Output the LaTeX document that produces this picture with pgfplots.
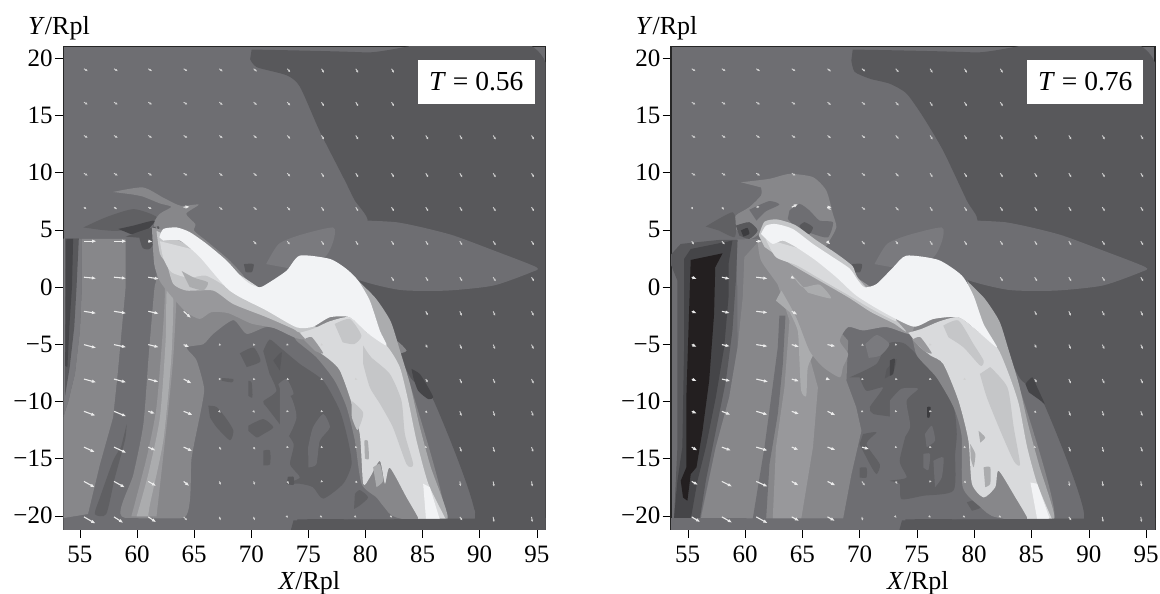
\documentclass[border=0pt]{standalone}
\usepackage{fontspec}
\setmainfont{Liberation Serif}
\usepackage{pgfplots}
\usepackage{pgfplotstable}
\pgfplotsset{compat=1.18}
\usetikzlibrary{arrows.meta}
\definecolor{gK}{HTML}{231F20}
\definecolor{gA}{HTML}{3C3C3F}
\definecolor{gB}{HTML}{454548}
\definecolor{gC}{HTML}{58585B}
\definecolor{gD}{HTML}{606063}
\definecolor{gE}{HTML}{6E6E72}
\definecolor{gF}{HTML}{7A7A7E}
\definecolor{gG}{HTML}{87878A}
\definecolor{gH}{HTML}{98989B}
\definecolor{gI}{HTML}{ABACAE}
\definecolor{gJ}{HTML}{C5C6C8}
\definecolor{gL}{HTML}{D9DADC}
\definecolor{gW}{HTML}{F2F3F5}
\pgfplotsset{
 r/.style={draw=none,fill=#1,forget plot,smooth,tension=.4},
 panel/.style={
  scale only axis,width=482.4pt,height=482.8pt,
  xmin=53.54,xmax=95.78,ymin=-21.2,ymax=21.0,
  axis background/.style={fill=gE},
  axis line style={draw=black!85,line width=1.1pt},
  tick align=outside,major tick length=8.5pt,
  tick style={black,line width=0.9pt},
  xtick pos=bottom,ytick pos=left,
  xtick={55,60,65,70,75,80,85,90,95},
  xticklabels={55,60,65,70,75,80,85,90,95},
  ytick={-20,-15,-10,-5,0,5,10,15,20},
  yticklabels={−20,−15,−10,−5,0,5,10,15,20},
  tick label style={font=\fontsize{25}{28}\selectfont,inner sep=2pt},
  xticklabel style={yshift=-6pt},
  every tick/.style={black},
  xlabel={\textit{X}/Rpl},ylabel={\textit{Y}/Rpl},
  every axis x label/.style={at={(axis description cs:0.51,-0.125)},anchor=base,font=\fontsize{26}{28}\selectfont},
  every axis y label/.style={at={(axis description cs:-0.009,1.026)},anchor=base,font=\fontsize{26}{28}\selectfont},
  no marks,axis on top=false,clip=true,
 },
 arr/.style={quiver={u=\thisrow{u},v=\thisrow{v}},-{Latex[length=4.4pt,width=3.4pt]},line width=1.1pt,draw=white!92!black,forget plot},
 arrs/.style={quiver={u=\thisrow{u},v=\thisrow{v},scale arrows=1.5},-{Latex[length=2.4pt,width=2.4pt]},line width=0.9pt,draw=white!82!black,forget plot},
}
% small arrows common to both panels: upper field and right side
\pgfplotstableread{
x y u v
55.35 19.07 .22 -.14
57.98 19.07 .22 -.14
60.98 19.07 .22 -.14
64.08 19.07 .22 -.14
67.2 19.07 .2 -.16
70.2 19.07 .2 -.16
73.15 19.07 .18 -.2
76.15 19.07 .15 -.24
79.15 19.07 .15 -.24
82.28 19.07 .15 -.24
55.35 16.15 .22 -.14
57.98 16.15 .22 -.14
60.98 16.15 .22 -.14
64.08 16.15 .22 -.14
67.2 16.15 .2 -.16
70.2 16.15 .2 -.16
73.15 16.15 .18 -.2
76.15 16.15 .15 -.24
79.15 16.15 .15 -.24
82.28 16.15 .15 -.24
55.35 13.24 .22 -.14
57.98 13.24 .22 -.14
60.98 13.24 .22 -.14
64.08 13.24 .22 -.14
67.2 13.24 .2 -.16
70.2 13.24 .2 -.16
73.15 13.24 .18 -.2
76.15 13.24 .15 -.24
79.15 13.24 .15 -.24
82.28 13.24 .15 -.24
85.28 13.24 .15 -.24
88.26 13.24 .15 -.24
91.18 13.24 .15 -.24
94.54 13.24 .15 -.24
55.35 9.94 .22 -.14
57.98 9.94 .22 -.14
60.98 9.94 .22 -.14
64.08 9.94 .22 -.14
67.2 9.94 .2 -.16
70.2 9.94 .2 -.16
73.15 9.94 .18 -.2
76.15 9.94 .15 -.24
79.15 9.94 .15 -.24
82.28 9.94 .15 -.24
85.28 9.94 .15 -.24
88.26 9.94 .15 -.24
91.18 9.94 .15 -.24
94.54 9.94 .15 -.24
67.2 6.97 .2 -.16
70.2 6.97 .2 -.16
73.15 6.97 .18 -.2
76.15 6.97 .15 -.24
79.15 6.97 .15 -.24
82.28 6.97 .15 -.24
85.28 6.97 .15 -.24
88.26 6.97 .15 -.24
91.18 6.97 .15 -.24
94.54 6.97 .15 -.24
70.2 4 .18 -.2
73.15 4 .15 -.2
76.15 4 .15 -.24
79.15 4 .15 -.24
82.28 4 .15 -.24
85.28 4 .15 -.24
88.26 4 .15 -.24
91.18 4 .15 -.24
94.54 4 .15 -.24
82.28 0.85 .15 -.24
85.28 0.85 .15 -.24
88.26 0.85 .15 -.24
91.18 0.85 .15 -.24
94.54 0.85 .15 -.24
85.28 -2.13 .12 -.24
88.26 -2.13 .12 -.26
91.18 -2.13 .12 -.26
94.54 -2.13 .12 -.26
85.28 -5.04 .1 -.2
88.26 -5.04 .12 -.26
91.18 -5.04 .12 -.26
94.54 -5.04 .12 -.26
85.28 -8.05 .12 -.2
88.26 -8.05 .12 -.26
91.18 -8.05 .12 -.26
94.54 -8.05 .12 -.26
85.28 -10.87 .1 -.1
88.26 -10.87 .1 -.28
91.18 -10.87 .1 -.28
94.54 -10.87 .1 -.28
85.28 -14 .08 -.05
88.26 -14 .1 -.28
91.18 -14 .08 -.3
94.54 -14 .1 -.28
88.26 -17 .05 -.28
91.18 -17 .05 -.3
94.54 -17 .05 -.3
88.26 -20.1 .15 -.2
91.18 -20.1 .05 -.3
94.54 -20.1 .05 -.3
73.15 -5.04 .1 -.03
76.15 -5.04 .1 -.03
73.15 -8.05 .12 -.03
76.15 -8.05 .1 -.03
79.15 -8.05 .1 -.03
73.15 -10.87 .1 -.03
76.15 -10.87 .1 -.03
73.15 -14 .1 -.03
76.15 -14 .1 -.03
79.15 -14 .1 -.03
73.15 -17 .1 -.15
76.15 -17 .1 -.03
79.15 -17 .1 -.1
73.15 -20.1 .05 -.05
76.15 -20.1 .05 -.03
79.15 -20.1 .05 -.03
82.28 -20.1 .05 -.03
}\arrowsCommon
% small arrows of the left panel
\pgfplotstableread{
x y u v
55.35 6.97 .15 -.12
57.98 6.97 .18 -.12
60.98 6.97 .2 -.1
67.2 -5.04 .12 -.03
70.2 -5.04 .12 -.03
67.2 -8.05 .12 0
70.2 -8.05 .12 -.02
67.2 -10.87 .08 -.08
70.2 -10.87 .08 -.08
67.2 -14 .12 -.17
70.2 -14 .1 -.15
67.2 -17 .1 -.2
70.2 -17 .08 -.2
64.08 -20.1 .2 -.2
67.2 -20.1 .08 -.2
70.2 -20.1 .08 -.2
}\arrowsLeftS
% long arrows of the left panel
\pgfplotstableread{
x y u v
64.08 6.97 .55 .05
55.35 4 1.1 0
57.98 4 1.1 0
60.98 4 .4 -.05
55.35 0.85 1.08 -.1
57.98 0.85 1.08 -.1
60.98 0.85 .95 -.15
55.35 -2.13 1.08 -.17
57.98 -2.13 1.08 -.17
60.98 -2.13 .93 -.2
64.08 -2.13 .64 -.58
55.35 -5.04 1.08 -.29
57.98 -5.04 1.08 -.23
60.98 -5.04 .93 -.23
64.08 -5.04 .5 -.23
55.35 -8.05 1.08 -.29
57.98 -8.05 1.08 -.29
60.98 -8.05 .9 -.25
64.08 -8.05 .7 -.38
55.35 -10.87 1.02 -.38
57.98 -10.87 1.08 -.44
60.98 -10.87 .6 -.2
64.08 -10.87 .8 -.32
55.35 -14 .96 -.44
57.98 -14 1.08 -.5
60.98 -14 .65 -.3
64.08 -14 .76 -.35
55.35 -17 .96 -.52
57.98 -17 .96 -.52
60.98 -17 .7 -.4
64.08 -17 .5 -.4
55.35 -20.1 1.02 -.58
57.98 -20.1 .82 -.52
60.98 -20.1 .7 -.47
}\arrowsLeft
% small arrows of the right panel
\pgfplotstableread{
x y u v
55.35 6.97 .08 -.14
57.98 6.97 .13 -.15
60.98 6.97 .2 .03
55.35 4 .13 -.2
57.98 4 .17 -.19
70.2 -5.04 .12 -.07
70.2 -8.05 .12 -.03
70.2 -10.87 .1 -.05
70.2 -17 .17 -.24
70.2 -20.1 .05 -.22
}\arrowsRightS
% long arrows of the right panel
\pgfplotstableread{
x y u v
64.08 6.97 .55 .28
67.15 6.97 .45 0
60.98 4 .5 0
67.15 4 .3 -.3
55.35 0.85 .45 -.15
57.98 0.85 .7 -.15
60.98 0.85 1 -.12
64.08 0.85 .3 -.15
55.35 -2.13 .45 -.18
57.98 -2.13 .7 -.15
60.98 -2.13 1 -.12
64.08 -2.13 .5 -.3
55.35 -5.04 .45 -.2
57.98 -5.04 .7 -.15
60.98 -5.04 1 -.15
64.08 -5.04 .65 -.2
67.2 -5.04 .7 -.15
55.35 -8.05 .45 -.18
57.98 -8.05 .75 -.18
60.98 -8.05 1.05 -.25
64.08 -8.05 .65 -.2
67.2 -8.05 .25 -.1
55.35 -10.87 .45 -.2
57.98 -10.87 .75 -.3
60.98 -10.87 1 -.3
64.08 -10.87 .65 -.25
67.2 -10.87 .7 -.35
55.35 -14 .5 -.3
57.98 -14 .8 -.3
60.98 -14 1 -.3
64.08 -14 .6 -.25
67.2 -14 .7 -.25
70.2 -14 .65 -.18
55.35 -17 .55 -.3
57.98 -17 .9 -.45
60.98 -17 1 -.45
64.08 -17 .6 -.35
67.2 -17 .7 -.35
55.35 -20.1 .75 -.45
57.98 -20.1 .9 -.5
60.98 -20.1 1 -.55
64.08 -20.1 .65 -.35
67.2 -20.1 .65 -.35
}\arrowsRight
\newcommand\lens{%
\addplot[r=gE] coordinates {(80.2,5.8)(82.7,5.66)(85,5.2)(87.7,4.5)(91.2,3.2)(94.97,1.72)(94.5,1.28)(91.2,.12)(87.1,-.32)(83,-.26)(79.2,.7)(77,2.5)} --cycle;
\addplot[r=gF] coordinates {(71.3,2)(72.4,3.76)(74.3,4.55)(77.17,5.2)(77.2,4.05)(76.44,2.6)(74,1.5)} --cycle;
\addplot[r=gC] coordinates {(69.35,2)(70.2,2)(70.05,1.3)(69.5,1.3)} --cycle;
}
\newcommand\strip{%
\addplot[r=gE,sharp plot] coordinates {(53,-21.5)(74,-21.5)(74,-20.25)(53,-20.2)} --cycle;
\addplot[r=gC,sharp plot] coordinates {(73.4,-21.5)(97,-21.5)(97,-20.2)(87.5,-20.25)(73.7,-20.4)} --cycle;
}
\begin{document}
\begin{tikzpicture}
\useasboundingbox (0,0) rectangle (1160pt,594pt);
% ---------------- left panel ----------------
\begin{axis}[panel,at={(63.3pt,64.5pt)},anchor=south west]
\addplot[r=gC] coordinates {(70.03,20.75)(80,20.5)(95.78,19.6)(97,-21.5)(73.4,-21.5)(73.7,-20.35)(84,-20.35)(89.6,-20.2)(86,-10)(84,-8)(82,-4)(79.5,.5)(79.3,3)(80.2,5.8)(79.07,7.55)(78.2,9.3)(76,13.6)(74.26,17.5)(73.1,18.5)(70.5,19.2)(69.9,19.9)} --cycle;
\lens
% cloud over the head
\addplot[r=gG] coordinates {(57.9,8.3)(60.5,8.7)(62.3,7.8)(63.8,7.1)(65.4,7.2)(64.3,6.4)(65.1,5.5)(65,4.9)(66.1,4)(68,2.4)(69.3,1)(69.7,0)(66,1)(62,3)(61.5,5.5)(62,6.4)(63,7)(62,7.3)(60.5,7.9)(59.5,8.1)} --cycle;
% wedges
\addplot[r=gD] coordinates {(55.3,5.2)(57.3,6.1)(59.7,6.8)(61.7,6.1)(60.3,5.2)(58.2,4.9)(56.75,5)} --cycle;
\addplot[r=gB] coordinates {(58.36,5.07)(59.67,5.36)(61.57,5.8)(60.5,4.64)(59.4,4.64)} --cycle;
\addplot[r=gC] coordinates {(59,4.4)(61.9,5.3)(61.2,3.4)(60.5,3.4)(60.2,4.3)} --cycle;
% left columns
\addplot[r=gG,sharp plot] coordinates {(55.15,4.2)(59,4.2)(59,0)(58.65,-3.8)(58.3,-7.6)(57.9,-11.4)(56.75,-15.5)(55.7,-19.85)(53.54,-20.2)(53.54,-11.4)(53.98,-10)(54.56,-7.6)(55,-3.8)(55.15,-.32)} --cycle;
\addplot[r=gF,sharp plot] coordinates {(53.7,4.3)(55.15,4.2)(55.15,-.32)(55,-3.8)(54.56,-7.6)(53.98,-10)(53.54,-11.4)(53.54,4.2)} --cycle;
\addplot[r=gC,sharp plot] coordinates {(53.7,4.25)(54.9,4.25)(54.7,0)(54.5,-3.5)(54.1,-7)(53.7,-9.5)} --cycle;
\addplot[r=gB,sharp plot] coordinates {(53.8,4.2)(54.4,4.2)(54.3,0)(54.1,-3)(53.9,-7)(53.7,-6.9)} --cycle;
\addplot[r=gD] coordinates {(59.09,-11.99)(58.94,-13.4)(58.06,-16.65)(57.3,-19.85)(56.3,-19.85)(56.75,-18.4)(57.9,-15.2)(58.6,-14)} --cycle;
% interior
\addplot[r=gD] coordinates {(71.05,-5.6)(71.6,-4.6)(72.5,-5.28)(74.25,-6.73)(76.3,-8.2)(77.75,-10.8)(78.48,-13.44)(78.78,-15.5)(78.05,-17.2)(76.3,-18.5)(75.4,-17.5)(74.25,-17.2)(73.1,-17.2)(74.26,-16.65)(73.4,-15.5)(73.7,-13.7)(72.5,-12)(71.35,-10.5)(71.05,-10)(72.2,-9.1)(71.6,-7.6)} --cycle;
\addplot[r=gE] coordinates {(72.5,-8.78)(73.5,-9.65)(73.96,-11.4)(73.2,-13.15)(72.5,-12.86)} --cycle;
\addplot[r=gE] coordinates {(74.98,-14)(75.4,-12.27)(76.3,-11.1)(76.88,-12.27)(76,-13.44)(75.7,-15.5)(75,-15.77)} --cycle;
\addplot[r=gE] coordinates {(72.37,-8.5)(73.1,-8.05)(73.7,-9.36)(72.8,-9.65)} --cycle;
\addplot[r=gC] coordinates {(71.93,-6.44)(72.66,-5.7)(72.5,-7.3)} --cycle;
\addplot[r=gC] coordinates {(73.2,-16.6)(73.7,-16.6)(73.7,-17.3)(73.1,-17.2)} --cycle;
\addplot[r=gD] coordinates {(79.07,-18.1)(79.5,-17.75)(80.23,-18.4)(79.5,-19.1)(79,-19.4)} --cycle;
\addplot[r=gD] coordinates {(66.24,-10.38)(66.97,-10.5)(67.84,-11.55)(68.43,-12.56)(68.13,-13.4)(66.97,-12.27)(66.38,-11.4)} --cycle;
\addplot[r=gD] coordinates {(69.74,-12.13)(71.05,-11.55)(71.93,-12.27)(71.05,-12.86)(70.47,-13.15)(69.74,-12.56)} --cycle;
\addplot[r=gD] coordinates {(71.05,-14.3)(71.64,-14.3)(71.64,-15.5)(71.05,-15.6)} --cycle;
\addplot[r=gD] coordinates {(69.74,-8.2)(70.03,-8.34)(70.1,-9.65)(69.74,-9.5)} --cycle;
\addplot[r=gD] coordinates {(67.4,-7.96)(68.43,-8.05)(68.3,-8.34)(67.4,-8.2)} --cycle;
\addplot[r=gD] coordinates {(69,-5.8)(70.2,-5.3)(70.8,-6.5)(69.6,-7)} --cycle;
% halo outside the jet
\addplot[r=gE] coordinates {(83.74,-8.78)(84.47,-9.94)(85.63,-11.1)(86.22,-12.57)(86.8,-13.3)(86.22,-14.9)(87.39,-16.65)(88.7,-18.1)(89.58,-19.85)(87.1,-20.38)(84.18,-20.38)} --cycle;
\addplot[r=gB] coordinates {(84.03,-7.17)(84.76,-7.61)(85.49,-8.78)(85.93,-9.65)(85.49,-9.8)(84.61,-9.07)(84.18,-7.9)} --cycle;
% sheath
\addplot[r=gG] coordinates {(61.5,5.8)(61.7,4.6)(61.7,.85)(61.5,-.3)(61,-6.2)(60.55,-12)(59.67,-16.4)(58.65,-20.05)(64.2,-20.1)(64.78,-14.9)(65.65,-10.5)(65.86,-8.8)(65.2,-6.4)(64.34,-5.3)(65.8,-5)(66.67,-4.1)(68.43,-2.9)(69.6,-4.1)(71.35,-3.5)(73.4,-3.8)(73.96,-4.7)(75.7,-6.15)(77.3,-8.2)(78.34,-10.5)(79.07,-13.44)(79.65,-17.2)(80.96,-18.4)(81.6,-19.2)(82.7,-20.15)(87,-20.2)(83.9,-8.5)(83,-6.7)(81.84,-5.13)(79,-1)(76,0)(73,0)(70.5,-1)(68,0)(66,2)(64,3.5)(62,4.6)} --cycle;
\addplot[r=gE] coordinates {(65.8,-5.1)(66.5,-5)(66.67,-6.15)(65.95,-5.86)} --cycle;
\addplot[r=gG] coordinates {(81.84,-5)(82.7,-4.7)(83.6,-5.57)(82.86,-5.85)} --cycle;
% light bands of the sheath
\addplot[r=gH] coordinates {(59.5,-20.05)(60.84,-14.9)(61.7,-10.5)(62.3,-3.24)(62.44,-.32)(62.3,.85)(61.9,3)(63.17,.85)(63.46,-.32)(63.17,-6.15)(62.6,-12)(61.7,-20.05)} --cycle;
\addplot[r=gI] coordinates {(59.96,-20.05)(60.98,-16.35)(62,-11.4)(62.5,-4.7)(62.6,-.32)(63.17,-.32)(63,-6.15)(62.3,-13.4)(61.13,-19)(60.98,-20.05)} --cycle;
\addplot[r=gH] coordinates {(61.3,5.2)(61.5,2)(62,.5)(63,-.8)(64.3,-2.2)(65.5,-2.8)(66.5,-2.2)(68,-2.3)(70,-3.2)(72,-3.6)(74,-4.5)(75.5,-4.6)(76.5,-4)(73,-2)(68,1)(64.5,4.4)} --cycle;
\addplot[r=gI] coordinates {(79.4,.5)(80.9,-1)(82.2,-3)(83,-5.5)(83.9,-8.5)(84.7,-12)(85.7,-15.7)(87.2,-20.2)(85,-20.2)(82,-8)(80,-3)} --cycle;
\addplot[r=gJ] coordinates {(61.7,4.9)(62,2.9)(62.6,2)(63.17,.26)(64.34,-.32)(66.67,-.32)(68.43,-1.5)(71.35,-2.65)(73.68,-3.67)(74.26,-4)(76,-3.8)(72,-1)(66,3)} --cycle;
\addplot[r=gL] coordinates {(62,4)(62.3,2.5)(63,1.3)(64.5,.8)(66,1)(67.5,.2)(69,-.9)(71,-1.8)(73,-2.8)(72,-1)(66,3)} --cycle;
\addplot[r=gI] coordinates {(63.9,1.4)(65,.8)(66.2,.4)(65.8,-.3)(64.6,0)} --cycle;
% main jet
\addplot[r=gL] coordinates {(74.25,-4)(75.4,-3.67)(76.88,-3)(78.63,-2.65)(80.09,-3.97)(81.84,-5.13)(83,-7)(83.74,-9.94)(84.47,-13.44)(85.5,-17.2)(86.95,-20.15)(87.1,-20.6)(84.5,-20.6)(84.6,-20.15)(83.6,-18.4)(82.13,-15.8)(81.7,-17.2)(81.26,-15.2)(80.38,-16.65)(79.8,-17.2)(79.5,-12.86)(78.63,-9.65)(77.75,-7.3)(76.9,-6.4)(75.4,-5.3)} --cycle;
\addplot[r=gH] coordinates {(74.6,-4.6)(75.3,-4.4)(76.3,-5.8)(75.6,-5.6)} --cycle;
\addplot[r=gJ] coordinates {(77.3,-3.24)(78.63,-2.8)(79.65,-4.26)(79,-5)(78,-4.84)} --cycle;
\addplot[r=gJ] coordinates {(79.8,-5.13)(80.5,-6.15)(82.13,-7.6)(83.15,-9.94)(83.45,-12.86)(84.18,-15.5)(83.6,-15.5)(82.4,-12.27)(81.26,-10.2)(80.38,-8.78)(79.8,-6.73)} --cycle;
\addplot[r=gI] coordinates {(80.67,-15.77)(81.26,-15.5)(81.55,-16.94)(80.96,-17.5)} --cycle;
\addplot[r=gI] coordinates {(79.9,-13.44)(80.2,-13.44)(80.3,-15)(79.95,-15)} --cycle;
\addplot[r=gJ] coordinates {(78.77,-9.94)(79.8,-11)(79.3,-12.5)(78.8,-11.4)} --cycle;
\addplot[r=gW,sharp plot] coordinates {(85.05,-17.2)(85.63,-17.5)(86.5,-20.3)(85.3,-20.3)} --cycle;
\addplot[r=gW] coordinates {(61.95,4.34)(62.3,5.07)(63.46,5.2)(64.6,4.8)(66.1,3.76)(67.84,2.3)(69.16,.85)(69.9,.26)(70.76,-.03)(71.6,.41)(73.1,1.43)(74.25,2.74)(76.88,2.45)(78.34,1.57)(79.36,.55)(80.38,-1.2)(81.26,-3.82)(81.84,-5.13)(80.09,-3.97)(78.63,-2.65)(76.88,-2.65)(75.42,-3.47)(73.97,-3.53)(71.35,-2.07)(68.1,-.32)(65.5,2.6)(63.76,4.05)(62.3,4.05)} --cycle;
\strip
\addplot[arrs] table {\arrowsCommon};
\addplot[arrs] table {\arrowsLeftS};
\addplot[arr] table {\arrowsLeft};
\node[fill=white,minimum width=117pt,minimum height=44pt,inner sep=0pt,font=\fontsize{27.5}{30}\selectfont] at (axis cs:89.7,17.94) {\textit{T} = 0.56};
\end{axis}
% ---------------- right panel ----------------
\begin{axis}[panel,at={(671pt,64.5pt)},anchor=south west,width=484pt]
\addplot[r=gC] coordinates {(69.4,20.75)(80,20.5)(95.78,19.6)(97,-21.5)(73.2,-21.5)(73.6,-20.35)(84,-20.35)(89.6,-20.2)(86,-10)(84,-8)(82,-4)(79.5,.5)(79.3,3)(80.3,5.8)(79.36,7.55)(77.3,11.9)(75.56,14.84)(74.1,16.9)(72.64,17.76)(70.9,18.2)(69.57,18.8)(69.28,19.8)} --cycle;
\lens
% cloud over the head
\addplot[r=gG] coordinates {(59.64,9.15)(62.12,9.45)(63.88,9.88)(65.92,9.6)(67.09,8.43)(67.67,6.38)(67.97,5.22)(67.38,4.05)(67.09,3.6)(66.21,3.76)(64.46,4.93)(62.12,5.5)(61.25,4.64)(60.37,4.2)(59.06,5.22)(59.2,6.24)(60.37,6.97)(61.4,8)(61.4,8.7)} --cycle;
\addplot[r=gE] coordinates {(63.88,6.68)(64.75,7.26)(65.63,6.68)(66.5,5.8)(67.67,5.66)(67.24,4.34)(65.92,4.64)(64.46,5.22)(63.73,5.95)} --cycle;
\addplot[r=gC] coordinates {(64.75,5.36)(65.2,5.66)(65.92,5.22)(65.63,4.64)(65,4.78)} --cycle;
\addplot[r=gE] coordinates {(60.37,6.75)(62.1,7.5)(63,7.2)(61.8,6.6)(61,5.8)} --cycle;
\addplot[r=gD] coordinates {(56.57,5.28)(58.91,6.53)(59.2,5.22)(59.06,4.34)(57.74,4.93)} --cycle;
\addplot[r=gC] coordinates {(59.2,5.36)(60.37,5.66)(61.1,4.93)(60.37,4.2)(59.5,4.5)} --cycle;
\addplot[r=gA] coordinates {(59.64,4.93)(60.2,5.16)(60.37,4.64)(59.85,4.4)} --cycle;
% base of the flow region
\addplot[r=gF,sharp plot] coordinates {(59.3,4.15)(61.1,4.2)(63,0)(66,-6)(68.55,-20)(56.14,-20.05)(57.45,-14)(58.62,-9.65)(59.35,-5.28)} --cycle;
\addplot[r=gG,sharp plot] coordinates {(59.94,2.6)(61.2,4)(64,1)(69,-4.7)(68.85,-8.2)(69.7,-10.5)(70.16,-12.57)(69.29,-16.36)(68.55,-20.3)(56.14,-20.3)(57.45,-14)(58.62,-9.65)(59.35,-5.28)(59.8,-.9)} --cycle;
% dark columns
\addplot[r=gC,sharp plot] coordinates {(53.51,2.8)(54.39,3.76)(57.75,4.11)(59.35,4.11)(59.2,.55)(58.9,-3.82)(58.33,-8.2)(57.45,-12.57)(56.58,-16.94)(56.05,-20.3)(53.8,-20.3)(54.1,-14)(54.1,-2.36)(54.1,.55)(53.51,2)} --cycle;
\addplot[r=gB,sharp plot] coordinates {(54.68,2.45)(55.26,3.32)(58.9,4.05)(58.56,2)(58.56,-.9)(58.18,-5.28)(57.45,-9.65)(56.58,-14)(55.85,-16.94)(55.26,-20.3)(53.8,-20.3)(54.1,-16.94)(54.53,-14)(54.68,-5.28)} --cycle;
\addplot[r=gK,sharp plot] coordinates {(55.26,2.36)(58.04,2.94)(57.4,1.72)(57.3,-2.36)(56.87,-8.2)(56.29,-12.57)(55.76,-15.77)(55.26,-16.36)(54.97,-18.69)(54.59,-18.4)(54.39,-16.94)(54.88,-15.77)(54.88,-9.65)} --cycle;
% stripes
\addplot[r=gE,sharp plot] coordinates {(63,-2.5)(63.53,-2.5)(63.3,-6.73)(62.86,-11.1)(62.13,-15.5)(61.84,-20.3)(60.67,-20.3)(61.7,-14)(62.4,-8.78)(62.86,-5.28)} --cycle;
\addplot[r=gH,sharp plot] coordinates {(62.42,-20.3)(64.9,-20.3)(65.93,-14)(66.36,-8.78)(65.6,-6)(64,-2)(62.6,1)(63.88,-2.95)(63.44,-8.78)(62.7,-14)} --cycle;
\addplot[r=gI] coordinates {(62.7,-1.2)(63.5,0)(64.75,-1.2)(65.63,-3.82)(66.07,-5.57)(65.48,-7)(65.34,-9.5)(64.9,-9.07)(64.75,-6.44)(64.6,-3.82)(63.9,-2.2)} --cycle;
% interior
\addplot[r=gD] coordinates {(69.13,-7.9)(71.47,-6.73)(72.35,-5)(74,-5)(76.73,-7.9)(78.2,-10.5)(78.48,-12.86)(78.34,-14.6)(78.19,-17.8)(75.56,-18.25)(73.66,-18.54)(73.5,-17.2)(72.64,-16.94)(74.1,-16.65)(73.5,-15.2)(74.1,-12.3)(72.93,-11.4)(71.2,-11.1)(70.9,-10.5)(72.05,-8.8)(70.6,-9.07)(70,-7.9)} --cycle;
\addplot[r=gE] coordinates {(72.64,-9.94)(73.66,-8.9)(75.1,-8.9)(74.1,-9.94)(74.4,-12.27)(73.37,-13.73)(72.64,-12.86)} --cycle;
\addplot[r=gE] coordinates {(75.7,-12.86)(76.3,-12.13)(76.58,-13.44)(75.85,-14)} --cycle;
\addplot[r=gE] coordinates {(75.56,-14.6)(76.15,-14.6)(76,-16)(75.56,-15.77)} --cycle;
\addplot[r=gE] coordinates {(76.44,-15.2)(77.31,-14.9)(77.17,-16.65)(76.58,-17.5)} --cycle;
\addplot[r=gC] coordinates {(72.35,-7.2)(73.22,-6.3)(72.93,-7.5)(72.2,-8)} --cycle;
\addplot[r=gB] coordinates {(72.64,-6.44)(73.08,-6.3)(72.93,-7.6)(72.64,-7.75)} --cycle;
\addplot[r=gA] coordinates {(75.9,-10.5)(76.2,-10.5)(76.1,-11.4)(75.9,-11.4)} --cycle;
\addplot[r=gD] coordinates {(79.36,-18.83)(80.38,-18.54)(80.53,-19.3)(79.8,-19.56)} --cycle;
\addplot[r=gD] coordinates {(70.3,-12.86)(71.47,-12.7)(70.6,-13.73)(71.76,-15.5)(71.47,-16.35)(70.9,-15.5)(70,-13.73)} --cycle;
\addplot[r=gD] coordinates {(70,-15.8)(70.6,-15.8)(70.6,-16.65)(70,-16.65)} --cycle;
% halo
\addplot[r=gE] coordinates {(83.74,-9.07)(85.2,-11.1)(87.1,-13.7)(86.66,-14.17)(85.8,-12.86)(85.5,-14.6)(87.25,-17.2)(89.15,-19.56)(89.15,-20)(86.37,-20.4)(84,-20.4)} --cycle;
\addplot[r=gD] coordinates {(84.6,-12.5)(85.2,-12.8)(85.5,-14.6)(84.8,-14.2)} --cycle;
\addplot[r=gB] coordinates {(84.47,-8.48)(85.06,-7.9)(85.5,-8.78)(86.14,-10.2)(85.8,-9.94)(84.76,-9.2)} --cycle;
% sheath
\addplot[r=gG] coordinates {(69,-2.9)(72.35,-3.5)(74.4,-4.1)(75,-6)(76.7,-7.9)(78.2,-10.5)(78.9,-13)(79,-17.5)(80.5,-19.2)(82,-20.15)(87,-20.15)(84,-9)(82,-5)(79,-1)(76,0)(73,0)(70.5,-1)(68.5,0)} --cycle;
\addplot[r=gH] coordinates {(61.1,4.05)(61.4,2.3)(63,0)(64.47,-2.65)(65.63,-5.57)(66.8,-7)(68.26,-7.9)(68.55,-7)(69,-5.86)(68.26,-4.7)(69,-3.5)(70.3,-3.8)(72.35,-3.5)(74.4,-4.1)(74.4,-2.5)(68,2)(64,4.5)} --cycle;
\addplot[r=gF] coordinates {(70.5,-5)(71.5,-4.2)(72.6,-5)(71.8,-6)(70.8,-6.2)} --cycle;
\addplot[r=gI] coordinates {(79.4,.5)(80.9,-1)(82.2,-3)(83,-5.5)(83.9,-8.5)(84.7,-12)(85.7,-15.7)(87,-20.2)(85,-20.2)(82,-8)(80,-3)} --cycle;
\addplot[r=gJ] coordinates {(61.2,4.5)(61.7,5.7)(62.8,5.9)(64.4,5.4)(66.2,4.1)(68,2.9)(69.4,1.8)(70,.6)(74,-3.8)(73,-3.2)(71,-2.2)(69,-.9)(66.4,.6)(64.5,1.7)(63,2.6)(61.7,3.5)} --cycle;
\addplot[r=gL] coordinates {(61.8,4.2)(62.7,2.6)(64.5,1.9)(66.4,.8)(69,-.7)(71,-1.9)(73.2,-3)(72,-1.5)(66,3)} --cycle;
\addplot[r=gI] coordinates {(64,1.2)(65,0)(66.5,.2)(67.5,-1)(65.5,-.5)} --cycle;
% main jet
\addplot[r=gL] coordinates {(74.25,-4)(75.4,-3.67)(77,-3)(78.63,-2.65)(80.24,-3.82)(81.99,-5.28)(83.01,-7.6)(83.89,-10.23)(84.62,-14)(85.5,-17.2)(86.72,-20.15)(86.9,-20.6)(84.5,-20.6)(84.62,-20.15)(83.6,-18.4)(82.13,-16.06)(81.84,-17.5)(80.82,-18.4)(79.8,-17.2)(79.5,-13.44)(78.63,-9.94)(77.3,-6.73)(76.2,-6)(75.2,-5.2)} --cycle;
\addplot[r=gH] coordinates {(74.6,-4.6)(75.3,-4.4)(76.3,-5.8)(75.6,-5.6)} --cycle;
\addplot[r=gJ] coordinates {(77.3,-3.38)(78.63,-2.94)(79.94,-5)(80.82,-6.44)(80.53,-6.88)(79.07,-5.28)(77.75,-4.4)} --cycle;
\addplot[r=gJ] coordinates {(81.4,-7)(82.9,-8.78)(83.45,-12.27)(84,-15.5)(83.45,-15.2)(82.28,-12.57)(81.1,-9.65)(80.5,-7.6)} --cycle;
\addplot[r=gI] coordinates {(80.38,-12.57)(80.96,-13.15)(80.53,-13.6)} --cycle;
\addplot[r=gI] coordinates {(79.65,-13.73)(80.1,-14.6)(79.95,-15.77)(79.7,-15)} --cycle;
\addplot[r=gI] coordinates {(80.82,-15.77)(81.4,-15.77)(81.4,-17.2)(80.96,-17.5)} --cycle;
\addplot[r=gW,sharp plot] coordinates {(84.91,-17.1)(85.5,-17.2)(86.6,-20.3)(85.5,-20.3)} --cycle;
\addplot[r=gW] coordinates {(61.4,4.64)(61.83,5.36)(62.7,5.5)(64.17,5.07)(65.92,3.76)(67.67,2.6)(69.14,1.6)(69.87,.55)(70.45,-.03)(71.48,.26)(72.94,1.72)(74.1,2.74)(76.88,2.36)(78.92,1)(79.94,-.76)(80.82,-3.24)(81.99,-5.28)(80.24,-3.82)(78.63,-2.65)(76.44,-2.8)(74.7,-3.47)(72.06,-2.2)(69.72,-.76)(67.97,.85)(66.2,2.3)(64.47,3.47)(63.3,4.05)(62.42,3.76)(61.7,4.34)} --cycle;
\strip
\addplot[arrs] table {\arrowsCommon};
\addplot[arrs] table {\arrowsRightS};
\addplot[arr] table {\arrowsRight};
\node[fill=white,minimum width=116pt,minimum height=44pt,inner sep=0pt,font=\fontsize{27.5}{30}\selectfont] at (axis cs:89.69,17.94) {\textit{T} = 0.76};
\end{axis}
\end{tikzpicture}
\end{document}
